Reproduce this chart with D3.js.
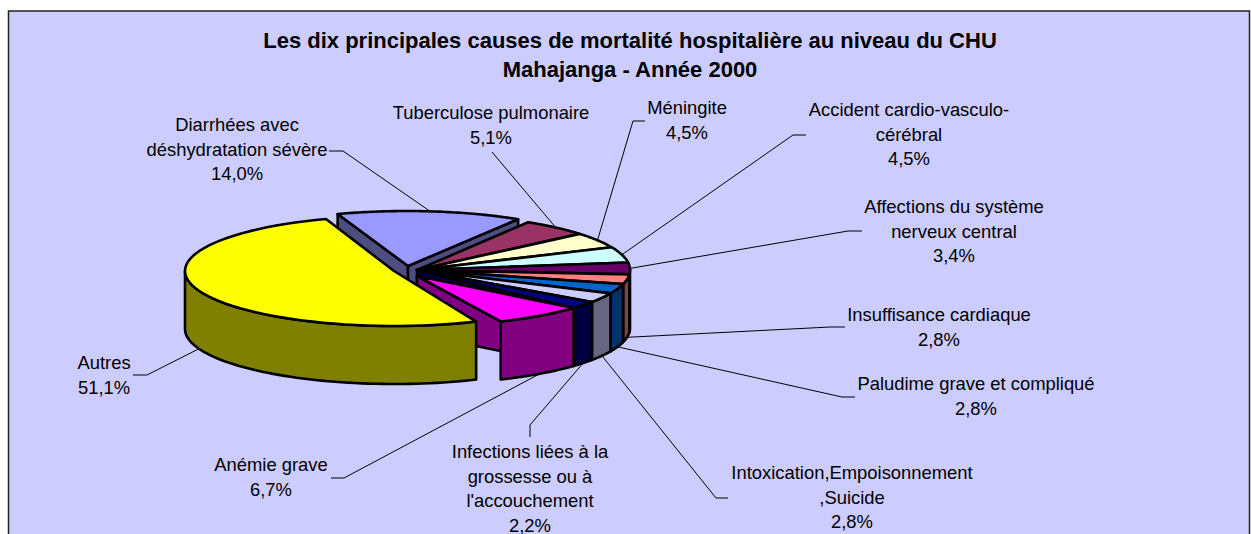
<!doctype html>
<html>
<head>
    <meta charset="utf-8">
    <style>
        html, body { margin: 0; padding: 0; background: #fff; overflow: hidden; }
        text { font-family: "Liberation Sans", Arial, sans-serif; fill: #000; }
        .title { font-size: 22px; font-weight: bold; text-anchor: middle; }
        .label { font-size: 18.4px; text-anchor: middle; }
    </style>
    <script src="https://d3js.org/d3.v7.min.js"></script>
    <title>Causes de mortalité</title>
</head>
<body>
<svg width="1251" height="534"></svg>
<script>
var titleLines = ["Les dix principales causes de mortalité hospitalière au niveau du CHU", "Mahajanga - Année 2000"];
var categories = ["Diarrhées avec déshydratation sévère", "Tuberculose pulmonaire", "Méningite", "Accident cardio-vasculo-cérébral",
    "Affections du système nerveux central", "Insuffisance cardiaque", "Paludime grave et compliqué",
    "Intoxication,Empoisonnement ,Suicide", "Infections liées à la grossesse ou à l'accouchement", "Anémie grave", "Autres"];
var values = [14.0, 5.1, 4.5, 4.5, 3.4, 2.8, 2.8, 2.8, 2.2, 6.7, 51.1];
var topColors = ["#9999ff", "#993366", "#ffffcc", "#ccffff", "#660066", "#ff8080", "#0066cc", "#ccccff", "#000080", "#ff00ff", "#ffff00"];
var sideColors = ["#4d4d80", "#4d1a33", "#808066", "#668080", "#330033", "#804040", "#003366", "#666680", "#000040", "#800080", "#808000"];
// label text wrapped as in the picture
var labelLines = [["Diarrhées avec", "déshydratation sévère"], ["Tuberculose pulmonaire"], ["Méningite"], ["Accident cardio-vasculo-", "cérébral"],
    ["Affections du système", "nerveux central"], ["Insuffisance cardiaque"], ["Paludime grave et compliqué"],
    ["Intoxication,Empoisonnement", ",Suicide"], ["Infections liées à la", "grossesse ou à", "l'accouchement"], ["Anémie grave"], ["Autres"]];

var svg = d3.select("svg");

// layout of the labels: centre x, first baseline, start and elbow of the leader
var labelPos = [
    {x: 237, y: 131, sx: 329, sy: 151, ex: 343, ey: 151},
    {x: 491, y: 119, sx: 492, sy: 152, ex: 492, ey: 152},
    {x: 687, y: 114, sx: 645, sy: 121, ex: 633, ey: 121},
    {x: 909, y: 116, sx: 806, sy: 135, ex: 793, ey: 135},
    {x: 954, y: 213, sx: 862, sy: 231, ex: 848, ey: 231},
    {x: 939, y: 321, sx: 845, sy: 327, ex: 830, ey: 327},
    {x: 976, y: 390, sx: 855, sy: 397, ex: 842, ey: 397},
    {x: 852, y: 479, sx: 728, sy: 498, ex: 716, ey: 498},
    {x: 530, y: 458, sx: 530, sy: 437, ex: 530, ey: 425},
    {x: 271, y: 471, sx: 331, sy: 478, ex: 344, ey: 478},
    {x: 104, y: 369, sx: 133, sy: 375, ex: 147, ey: 375}
];

var rx = 213, ry = 56, depth = 58, cx = 417, cy = 270;
// exploded slices sit off the centre of the pie (dx, dy of the rim, ax, ay of the tip, own radii)
var offset = {
    0: {dx: -10, dy: -3, ax: -9, ay: -4},
    9: {dx: 0, dy: 0, ax: 0, ay: 6},
    10: {dx: -23, dy: 1, ax: -23, ay: 1, rx: 209, ry: 55}
};

var pie = d3.pie().sort(null).startAngle(341 * Math.PI / 180).endAngle((341 + 360) * Math.PI / 180);
var arcs = pie(values);
var none = {dx: 0, dy: 0, ax: 0, ay: 0};

function tip(i) {
    var o = offset[i] || none;
    return [cx + o.ax, cy + o.ay];
}
function edge(i, a) {
    var o = offset[i] || none;
    return [cx + o.dx + (o.rx || rx) * Math.sin(a), cy + o.dy - (o.ry || ry) * Math.cos(a)];
}
var line = d3.line();

function topPath(d, i) {
    var pts = [tip(i)];
    d3.range(0, 61).forEach(function(k) { pts.push(edge(i, d.startAngle + (d.endAngle - d.startAngle) * k / 60)); });
    return line(pts) + "Z";
}
function outerWall(d, i) {
    // only the part that faces the viewer, between 90 and 270 degrees
    var lo = Math.PI / 2, hi = 3 * Math.PI / 2, a0 = d.startAngle, a1 = d.endAngle;
    if (a0 >= 2 * Math.PI) { a0 -= 2 * Math.PI; a1 -= 2 * Math.PI; }
    a0 = Math.max(a0, lo); a1 = Math.min(a1, hi);
    if (a1 <= a0) return null;
    var up = [], down = [];
    d3.range(0, 61).forEach(function(k) {
        var p = edge(i, a0 + (a1 - a0) * k / 60);
        up.push(p); down.unshift([p[0], p[1] + depth]);
    });
    return line(up.concat(down)) + "Z";
}
function radialWall(i, a) {
    var c = tip(i), e = edge(i, a);
    return line([c, e, [e[0], e[1] + depth], [c[0], c[1] + depth]]) + "Z";
}

// panel, cut off by the window at the bottom
svg.append("rect").attr("x", 8.5).attr("y", 11).attr("width", 1241).attr("height", 540)
    .attr("fill", "#ccccff").attr("stroke", "#222").attr("stroke-width", 1.5);

svg.selectAll(".title").data(titleLines).enter().append("text")
    .attr("class", "title").attr("x", 630)
    .attr("y", function(d, i) { return 48 + i * 29; })
    .text(function(d) { return d; });

// leaders go under the pie
arcs.forEach(function(d, i) {
    var p = labelPos[i], mid = (d.startAngle + d.endAngle) / 2, e = edge(i, mid);
    var s = Math.cos(mid) < 0 ? depth : 0;
    svg.append("path")
        .attr("d", line([[p.sx, p.sy], [p.ex, p.ey], [e[0], e[1] + s]]))
        .attr("fill", "none").attr("stroke", "#000").attr("stroke-width", 1);
});

var pieG = svg.append("g").attr("stroke", "#000").attr("stroke-width", 2.6).attr("stroke-linejoin", "round");
arcs.forEach(function(d, i) {
    if (i == 0) {
        pieG.append("path").attr("d", radialWall(i, d.startAngle)).attr("fill", sideColors[i]);
        pieG.append("path").attr("d", radialWall(i, d.endAngle)).attr("fill", sideColors[i]);
    }
    if (i == 8) pieG.append("path").attr("d", radialWall(i, d.endAngle)).attr("fill", sideColors[i]);
    if (i == 9) pieG.append("path").attr("d", radialWall(i, d.startAngle)).attr("fill", sideColors[i]);
    var w = outerWall(d, i);
    if (w) pieG.append("path").attr("d", w).attr("fill", sideColors[i]);
    pieG.append("path").attr("d", topPath(d, i)).attr("fill", topColors[i]);
});

labelLines.forEach(function(lines, i) {
    var p = labelPos[i];
    lines.concat([d3.format(".1f")(values[i]).replace(".", ",") + "%"]).forEach(function(t, k) {
        svg.append("text").attr("class", "label").attr("x", p.x).attr("y", p.y + k * 24.7).text(t);
    });
});
</script>
</body>
</html>
